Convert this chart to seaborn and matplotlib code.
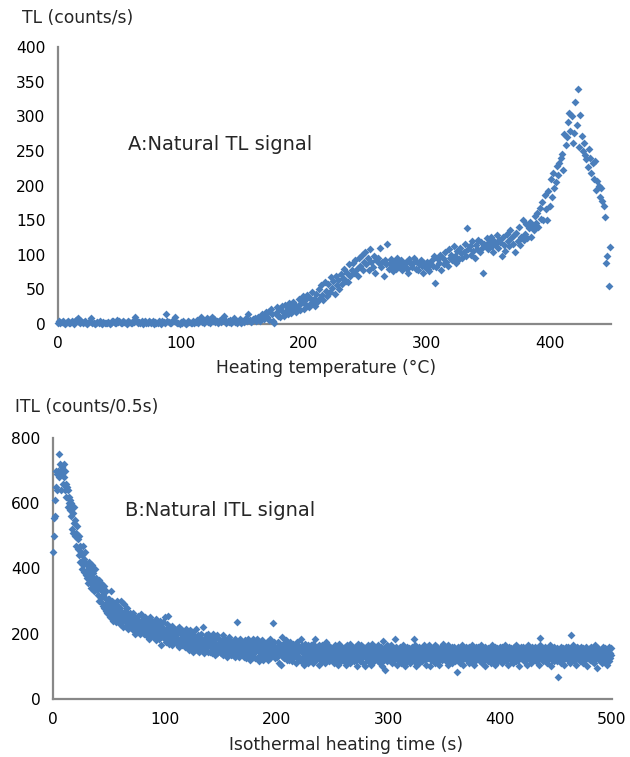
import numpy as np
import pandas as pd
import matplotlib
matplotlib.use("Agg")
import matplotlib.pyplot as plt
import seaborn as sns

sns.set_style("white")
plt.rcParams['font.family'] = ['DejaVu Sans']

# ---------------- Panel A: natural TL signal (counts/s), one reading per degree C from 0 to 449
tl_counts = [
    2, 4, 1, 3, 5, 2, 0, 3, 4, 1,
    2, 5, 3, 0, 4, 6, 8, 3, 2, 5,
    1, 3, 4, 2, 0, 3, 5, 8, 2, 1,
    0, 2, 3, 1, 4, 2, 0, 3, 1, 2,
    1, 3, 0, 2, 4, 5, 1, 2, 6, 3,
    4, 2, 1, 5, 3, 2, 0, 4, 3, 1,
    2, 5, 3, 10, 4, 1, 3, 2, 5, 0,
    3, 4, 2, 1, 5, 3, 2, 4, 0, 3,
    2, 1, 4, 3, 0, 5, 3, 2, 15, 4,
    3, 1, 2, 5, 4, 10, 3, 2, 1, 0,
    3, 2, 4, 1, 0, 2, 5, 3, 1, 2,
    4, 2, 3, 6, 1, 5, 10, 3, 4, 2,
    5, 8, 3, 6, 2, 10, 4, 7, 3, 5,
    2, 4, 6, 3, 8, 12, 4, 2, 5, 3,
    6, 2, 4, 9, 3, 5, 1, 4, 7, 2,
    5, 3, 6, 8, 4, 14, 6, 3, 5, 7,
    8, 4, 6, 10, 5, 9, 15, 12, 7, 18,
    10, 18, 6, 22, 14, 4, 2, 16, 24, 12,
    22, 10, 26, 18, 12, 28, 20, 15, 30, 24,
    16, 32, 22, 28, 18, 26, 36, 20, 30, 40,
    22, 34, 28, 42, 24, 38, 30, 46, 36, 26,
    44, 32, 50, 38, 56, 42, 34, 60, 48, 40,
    58, 46, 68, 52, 62, 44, 70, 56, 64, 50,
    72, 58, 66, 80, 62, 74, 60, 86, 70, 78,
    88, 74, 92, 80, 70, 96, 84, 100, 78, 90,
    104, 86, 96, 78, 108, 90, 82, 98, 74, 92,
    96, 88, 110, 82, 90, 70, 92, 86, 115, 80,
    88, 94, 84, 76, 90, 80, 96, 86, 82, 92,
    78, 88, 84, 90, 80, 74, 94, 86, 82, 88,
    96, 80, 90, 78, 86, 92, 84, 74, 88, 82,
    90, 80, 76, 86, 92, 84, 98, 59, 82, 94,
    88, 100, 78, 96, 86, 104, 90, 84, 108, 96,
    100, 92, 112, 98, 88, 106, 94, 110, 102, 96,
    104, 116, 98, 138, 108, 112, 100, 120, 106, 96,
    114, 108, 122, 104, 118, 110, 73, 116, 112, 124,
    108, 118, 126, 112, 104, 120, 116, 128, 110, 122,
    118, 98, 126, 114, 106, 130, 120, 112, 136, 124,
    116, 128, 104, 132, 120, 140, 114, 126, 150, 122,
    130, 144, 124, 138, 148, 126, 142, 136, 156, 146,
    160, 140, 168, 152, 176, 150, 186, 166, 150, 192,
    170, 210, 184, 218, 196, 205, 228, 215, 232, 240,
    246, 222, 275, 258, 270, 292, 304, 278, 300, 262,
    276, 320, 288, 339, 255, 302, 272, 250, 262, 244,
    238, 226, 252, 240, 218, 232, 210, 236, 194, 206,
    200, 184, 196, 178, 170, 155, 88, 98, 55, 111,
]

# ---------------- Panel B: natural ITL signal (counts/0.5s), one reading every 0.5 s from 0 to 499.5
itl_counts = [
    450, 500, 555, 610, 560, 650, 700, 690, 640, 700, 680, 750, 720, 700, 640, 690, 710, 660, 700, 720,
    680, 640, 700, 660, 620, 650, 590, 640, 600, 620, 580, 610, 560, 600, 520, 570, 510, 590, 540, 500,
    550, 510, 470, 530, 490, 460, 440, 500, 470, 420, 450, 400, 440, 470, 410, 430, 390, 450, 420, 380,
    410, 370, 400, 355, 420, 380, 360, 395, 340, 375, 410, 350, 385, 330, 365, 400, 345, 370, 335, 360,
    350, 320, 365, 300, 340, 310, 355, 295, 330, 285, 320, 345, 280, 310, 270, 330, 295, 265, 305, 285,
    270, 305, 250, 330, 285, 260, 300, 240, 280, 265, 295, 250, 275, 235, 300, 260, 285, 245, 270, 230,
    280, 250, 300, 235, 265, 220, 255, 290, 240, 270, 225, 260, 245, 280, 215, 250, 235, 265, 220, 245,
    255, 225, 240, 210, 265, 235, 200, 250, 220, 245, 230, 205, 255, 215, 240, 200, 225, 260, 210, 235,
    220, 245, 200, 235, 210, 250, 195, 225, 240, 205, 230, 185, 215, 250, 200, 225, 195, 240, 210, 230,
    215, 190, 235, 205, 245, 180, 220, 200, 230, 185, 210, 240, 195, 165, 225, 205, 190, 235, 200, 215,
    250, 185, 210, 175, 230, 195, 255, 170, 205, 220, 180, 200, 165, 225, 190, 210, 175, 215, 185, 200,
    195, 170, 215, 180, 205, 160, 220, 185, 175, 200, 165, 210, 190, 170, 205, 180, 160, 195, 215, 175,
    185, 160, 200, 175, 150, 210, 165, 190, 155, 205, 175, 145, 195, 170, 185, 160, 215, 150, 180, 195,
    165, 190, 145, 180, 160, 200, 150, 175, 220, 155, 185, 140, 170, 195, 150, 180, 160, 200, 145, 175,
    170, 145, 190, 160, 180, 140, 200, 155, 175, 135, 185, 165, 150, 195, 140, 170, 160, 185, 145, 175,
    160, 140, 180, 150, 195, 135, 170, 155, 185, 145, 165, 130, 175, 150, 190, 140, 160, 180, 135, 170,
    150, 175, 135, 165, 145, 185, 130, 160, 140, 175, 237, 155, 170, 130, 185, 145, 160, 140, 175, 150,
    165, 130, 155, 180, 140, 170, 125, 160, 145, 185, 135, 165, 150, 120, 175, 140, 160, 130, 185, 150,
    140, 170, 125, 160, 150, 185, 130, 155, 115, 175, 145, 160, 130, 180, 140, 120, 165, 150, 135, 170,
    155, 130, 175, 140, 165, 120, 160, 145, 185, 125, 150, 170, 135, 160, 233, 140, 175, 125, 155, 140,
    160, 130, 150, 175, 110, 165, 140, 155, 105, 190, 145, 130, 170, 150, 125, 165, 140, 180, 120, 155,
    135, 165, 120, 150, 175, 130, 160, 115, 145, 170, 125, 155, 140, 165, 110, 150, 135, 175, 125, 145,
    160, 125, 150, 185, 115, 145, 165, 130, 155, 105, 170, 140, 120, 160, 135, 150, 110, 165, 140, 125,
    150, 120, 165, 135, 145, 110, 170, 130, 155, 185, 120, 145, 160, 125, 140, 105, 165, 135, 150, 120,
    140, 165, 115, 150, 130, 160, 110, 145, 175, 125, 155, 135, 165, 115, 145, 120, 160, 130, 150, 140,
    125, 155, 140, 110, 165, 130, 150, 120, 160, 135, 105, 145, 170, 125, 150, 115, 160, 140, 130, 155,
    145, 115, 160, 130, 150, 105, 165, 135, 120, 155, 140, 170, 110, 150, 130, 160, 125, 145, 115, 155,
    135, 160, 120, 150, 100, 145, 170, 125, 155, 115, 140, 165, 130, 150, 110, 160, 135, 145, 100, 155,
    125, 150, 140, 165, 115, 145, 130, 160, 105, 150, 135, 170, 120, 145, 155, 115, 160, 130, 140, 125,
    150, 115, 165, 135, 145, 110, 160, 125, 150, 100, 179, 140, 120, 155, 90, 145, 130, 165, 115, 150,
    140, 160, 120, 150, 130, 165, 110, 145, 135, 155, 120, 183, 140, 125, 160, 105, 150, 135, 145, 115,
    160, 125, 150, 110, 145, 135, 165, 120, 155, 100, 140, 150, 130, 160, 115, 145, 125, 155, 135, 110,
    145, 125, 160, 135, 150, 183, 115, 140, 165, 100, 130, 155, 120, 145, 110, 160, 135, 150, 125, 140,
    155, 115, 145, 130, 165, 120, 150, 105, 140, 160, 125, 145, 135, 165, 100, 150, 120, 155, 130, 145,
    120, 155, 140, 165, 110, 145, 130, 160, 115, 150, 135, 105, 145, 125, 160, 120, 150, 170, 135, 140,
    145, 125, 160, 115, 150, 135, 165, 105, 140, 155, 120, 145, 130, 160, 110, 150, 125, 140, 160, 135,
    115, 150, 84, 140, 125, 160, 135, 145, 110, 155, 130, 165, 120, 145, 105, 150, 140, 125, 160, 130,
    145, 120, 155, 135, 110, 160, 125, 150, 140, 165, 115, 145, 130, 155, 105, 140, 160, 120, 150, 135,
    125, 160, 140, 115, 150, 130, 165, 110, 145, 135, 155, 120, 160, 100, 140, 150, 125, 145, 115, 155,
    140, 125, 155, 110, 150, 135, 165, 120, 145, 130, 160, 105, 150, 140, 125, 155, 115, 145, 135, 160,
    120, 150, 135, 160, 110, 145, 125, 155, 140, 165, 115, 150, 130, 145, 105, 160, 125, 140, 150, 120,
    155, 130, 145, 110, 160, 125, 150, 140, 115, 165, 135, 145, 120, 155, 100, 140, 130, 160, 125, 150,
    135, 160, 115, 145, 130, 155, 120, 150, 105, 140, 165, 125, 150, 135, 145, 110, 160, 130, 140, 120,
    150, 125, 160, 140, 115, 155, 130, 145, 120, 150, 105, 188, 165, 135, 140, 125, 155, 115, 145, 130,
    160, 120, 145, 135, 110, 155, 130, 150, 125, 165, 100, 140, 150, 120, 145, 135, 160, 115, 150, 130,
    140, 115, 155, 130, 68, 150, 125, 145, 160, 110, 140, 135, 155, 120, 145, 105, 150, 130, 160, 125,
    145, 120, 160, 135, 150, 110, 140, 196, 125, 155, 130, 165, 115, 145, 135, 150, 105, 160, 125, 140,
    155, 130, 145, 115, 160, 125, 150, 140, 110, 155, 135, 145, 120, 160, 130, 100, 150, 125, 145, 135,
    120, 155, 140, 160, 115, 145, 130, 150, 110, 140, 165, 125, 145, 95, 135, 155, 120, 150, 130, 140,
    150, 125, 145, 110, 160, 135, 140, 120, 155, 130, 145, 105, 150, 135, 160, 115, 140, 125, 155, 135,
]

temperature = np.arange(len(tl_counts))          # deg C
heat_time = np.arange(len(itl_counts)) * 0.5     # s

xticks_A = [0, 100, 200, 300, 400]
yticks_A = [0, 50, 100, 150, 200, 250, 300, 350, 400]
xticks_B = [0, 100, 200, 300, 400, 500]
yticks_B = [0, 200, 400, 600, 800]

df_A = pd.DataFrame({"T": temperature, "TL": tl_counts})
df_B = pd.DataFrame({"t": heat_time, "ITL": itl_counts})

W, H = 630, 757
MARK = "#4a7ebb"
AXC = "#888888"
TICK_FS = 11.2
LAB_FS = 12.3
ANN_FS = 14

fig = plt.figure(figsize=(W / 100, H / 100), dpi=100)
axA = fig.add_axes([58 / W, 1 - 324 / H, 553 / W, 277 / H])
axB = fig.add_axes([53 / W, 1 - 699 / H, 559 / W, 261 / H])

sns.scatterplot(data=df_A, x="T", y="TL", ax=axA, marker="D", s=16,
                color=MARK, linewidth=0, clip_on=False, zorder=3)
sns.scatterplot(data=df_B, x="t", y="ITL", ax=axB, marker="D", s=16,
                color=MARK, linewidth=0, clip_on=False, zorder=3)


def style(ax, xlim, ylim, xt, yt):
    ax.set_xlim(*xlim)
    ax.set_ylim(*ylim)
    ax.set_xticks(xt)
    ax.set_yticks(yt)
    for s in ["top", "right"]:
        ax.spines[s].set_visible(False)
    for s in ["left", "bottom"]:
        ax.spines[s].set_color(AXC)
        ax.spines[s].set_linewidth(1.6)
        ax.spines[s].set_zorder(2)
    ax.tick_params(axis="both", direction="out", length=5, width=1.6,
                   color=AXC, labelcolor="black", labelsize=TICK_FS, pad=4)
    ax.grid(False)


style(axA, (0, 450), (0, 400), xticks_A, yticks_A)
style(axB, (0, 500), (0, 800), xticks_B, yticks_B)

axA.set_xlabel("Heating temperature (°C)", fontsize=LAB_FS)
axA.xaxis.set_label_coords((326.5 - 58) / 553, (324 - 368) / 277)
axA.xaxis.label.set_va("center")
axA.set_ylabel("TL (counts/s)", fontsize=LAB_FS, rotation=0, ha="left", va="center")
axA.yaxis.set_label_coords((22 - 58) / 553, (324 - 18) / 277)

axB.set_xlabel("Isothermal heating time (s)", fontsize=LAB_FS)
axB.xaxis.set_label_coords((346 - 53) / 559, (699 - 745) / 261)
axB.xaxis.label.set_va("center")
axB.set_ylabel("ITL (counts/0.5s)", fontsize=LAB_FS, rotation=0, ha="left", va="center")
axB.yaxis.set_label_coords((15 - 53) / 559, (699 - 407) / 261)

axA.text((128 - 58) / 553, (324 - 145) / 277, "A:Natural TL signal",
         transform=axA.transAxes, ha="left", va="center", fontsize=ANN_FS)
axB.text((125 - 53) / 559, (699 - 510) / 261, "B:Natural ITL signal",
         transform=axB.transAxes, ha="left", va="center", fontsize=ANN_FS)

fig.savefig("out.png", dpi=100)
